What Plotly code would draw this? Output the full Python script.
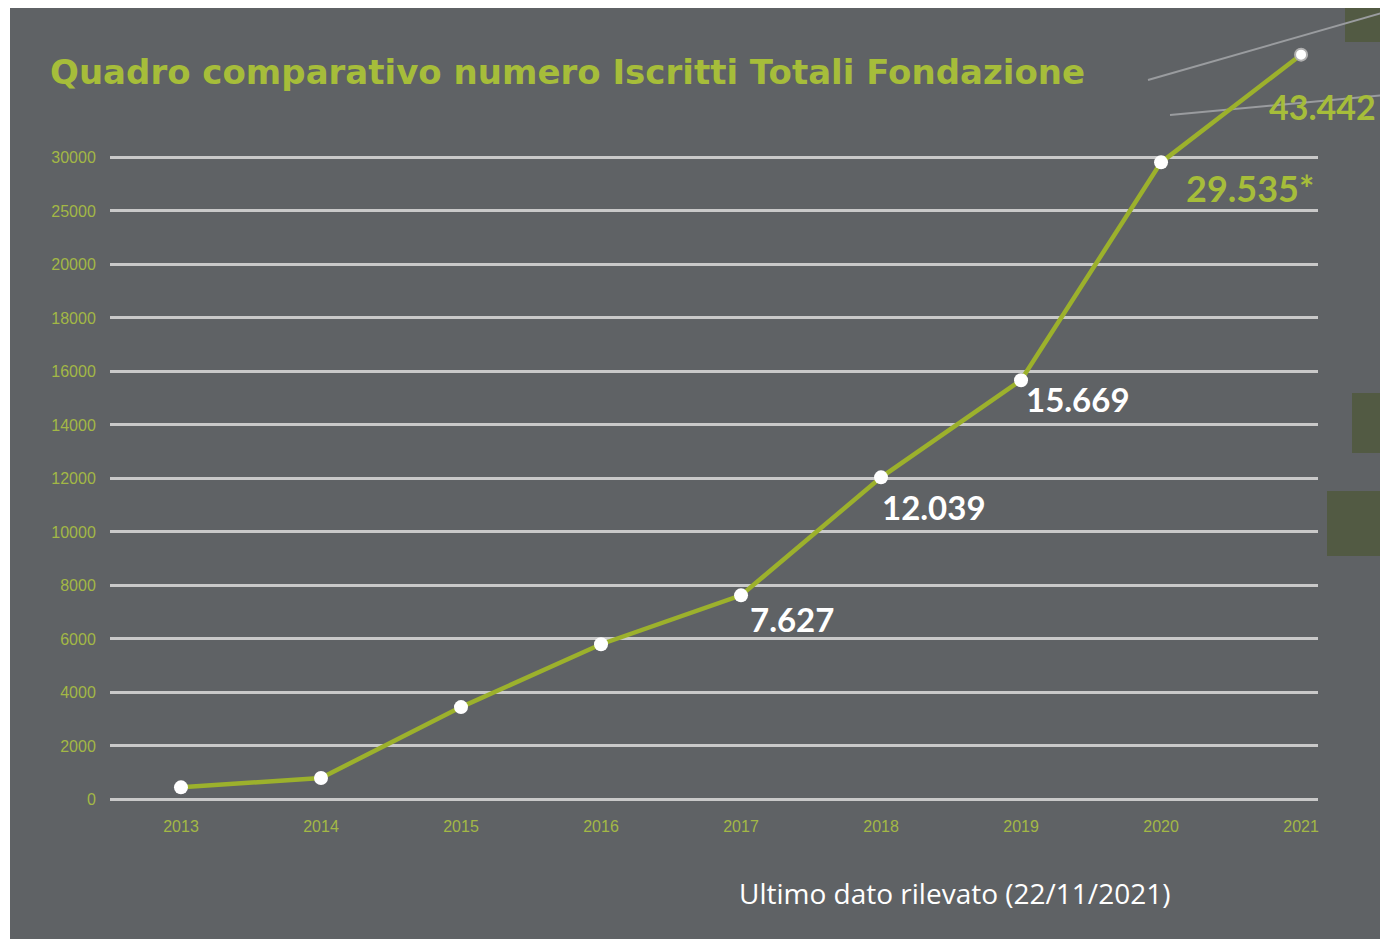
import plotly.graph_objects as go
import numpy as np

# ---- data ----
years = [2013, 2014, 2015, 2016, 2017, 2018, 2019, 2020, 2021]
iscritti = [450, 800, 3450, 5800, 7627, 12039, 15669, 29535, 43442]
labels = ["", "", "", "", "7.627", "12.039", "15.669", "29.535*", "43.442"]
tick_values = [0, 2000, 4000, 6000, 8000, 10000, 12000, 14000, 16000, 18000, 20000, 25000, 30000]
tick_labels = [str(v) for v in tick_values]
x_tick_labels = [str(y) for y in years]

# ---- non-linear display scale of the original graphic ----
scale_vals = tick_values + [44000]
scale_pos = list(range(len(tick_values))) + [14]
def ypos(v):
    return float(np.interp(v, scale_vals, scale_pos))

W, H = 1380, 939
ML, MT = 110, 20
PR, PB = 1318, 801
MR, MB = W - PR, H - PB
PW, PH = PR - ML, PB - MT
STEP = 53.5
def px(x):
    return (x - ML) / PW
def py(y):
    return (PB - y) / PH

BG = "#5f6265"
GREEN = "#a6bd3a"
LINE = "#9cb12c"
TICKG = "#a3b845"

fig = go.Figure()
fig.add_trace(go.Scatter(
    x=years, y=[ypos(v) for v in iscritti], mode="lines+markers",
    line=dict(color=LINE, width=4.5),
    marker=dict(color="#ffffff", size=[14]*8 + [12], opacity=1,
                line=dict(color=["#ffffff"]*8 + ["#b0b0b0"], width=[0]*8 + [2])),
    cliponaxis=False, hoverinfo="skip", showlegend=False))

# value labels
lab_style = {  # dx, dy, color, size
    "7.627": (51, 24, "white", 33),
    "12.039": (53, 30, "white", 33),
    "15.669": (57, 19, "white", 33),
    "29.535*": (89, 26, GREEN, 36),
    "43.442": (21, 52, GREEN, 34),
}
for yr, v, t in zip(years, iscritti, labels):
    if not t:
        continue
    dx, dy, c, s = lab_style[t]
    fig.add_annotation(x=yr, y=ypos(v), text=t, showarrow=False,
                       xshift=dx, yshift=-dy, xanchor="center", yanchor="middle",
                       font=dict(family="Lato", size=s, color=c, weight="bold"))

shapes = []
# background panel with white left/top strips
shapes.append(dict(type="rect", xref="paper", yref="paper", x0=px(10), x1=px(1400),
                   y0=py(960), y1=py(8), fillcolor=BG, line=dict(width=0), layer="below"))
# decorative artefacts at right edge
for (x0, y0, x1, y1) in [(1345, 8, 1400, 42), (1352, 393, 1400, 453), (1327, 491, 1400, 556)]:
    shapes.append(dict(type="rect", xref="paper", yref="paper", x0=px(x0), x1=px(x1),
                       y0=py(y1), y1=py(y0), fillcolor="#525a43", line=dict(width=0), layer="below"))
for (x0, y0, x1, y1) in [(1148, 80, 1385, 12), (1170, 115, 1385, 95)]:
    shapes.append(dict(type="line", xref="paper", yref="paper", x0=px(x0), x1=px(x1),
                       y0=py(y0), y1=py(y1), line=dict(color="#9a9c9f", width=2), layer="below"))
fig.update_layout(shapes=shapes)

fig.add_annotation(xref="paper", yref="paper", x=px(48), y=py(72), xanchor="left", yanchor="middle",
                   text="Quadro comparativo numero Iscritti Totali Fondazione", showarrow=False,
                   font=dict(family="DejaVu Sans", size=34, color=GREEN, weight="bold"))
fig.add_annotation(xref="paper", yref="paper", x=px(954), y=py(893), xanchor="center", yanchor="middle",
                   text="Ultimo dato rilevato (22/11/2021)", showarrow=False,
                   font=dict(family="Open Sans", size=28, color="white"))

fig.update_layout(
    width=W, height=H,
    margin=dict(l=ML, r=MR, t=MT, b=MB),
    paper_bgcolor="white", plot_bgcolor="rgba(0,0,0,0)",
    xaxis=dict(range=[2012.493, 2021.121], tickvals=years, ticktext=x_tick_labels,
               showgrid=False, zeroline=False, showline=False,
               ticks="outside", ticklen=11, tickcolor="rgba(0,0,0,0)",
               tickfont=dict(family="Liberation Sans", size=16, color=TICKG)),
    yaxis=dict(range=[-0.03, PH / STEP - 0.03], tickvals=[ypos(v) for v in tick_values], ticktext=tick_labels,
               showgrid=True, gridcolor="#c9c9c9", gridwidth=2.5, zeroline=False, showline=False,
               ticks="outside", ticklen=10, tickcolor="rgba(0,0,0,0)",
               tickfont=dict(family="Liberation Sans", size=16, color=TICKG)),
)

fig.write_html("out.html", config={"displayModeBar": False},
               post_script="document.body.style.margin='0';document.body.style.overflow='hidden';")
